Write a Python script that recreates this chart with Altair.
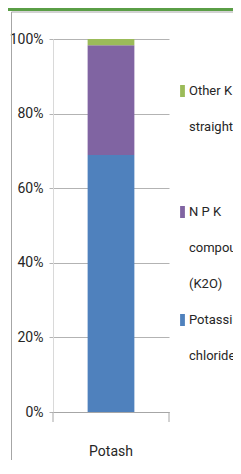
import altair as alt
import pandas as pd

categories = ["Potash"]
series = ["Potassium chloride", "N P K compound (K2O)", "Other K straight"]
values = [0.689, 0.294, 0.017]
colors = ["#4F81BD", "#8064A2", "#9BBB59"]
y_ticks = [0, 0.2, 0.4, 0.6, 0.8, 1.0]
legend_order = ["Other K straight", "N P K compound (K2O)", "Potassium chloride"]
legend_text = ["Other K\nstraight", "N P K\ncompound\n(K2O)", "Potassium\nchloride"]

FONT = "Roboto, sans-serif"
FS = 14
LFS = 13
TXT = "#262626"
GRID = "#B3B3B3"

df = pd.DataFrame({
    "category": [categories[0]] * len(series),
    "series": series,
    "value": values,
    "order": list(range(len(series))),
})

color_scale = alt.Scale(domain=series, range=colors)

bars = alt.Chart(df).mark_bar().encode(
    x=alt.X("category:N",
            scale=alt.Scale(paddingInner=0.595, paddingOuter=0.3),
            axis=alt.Axis(title=None, ticks=False, domainColor="#A6A6A6",
                          labelAngle=0, labelFont=FONT, labelFontSize=FS,
                          labelColor=TXT, labelPadding=32)),
    y=alt.Y("value:Q", stack="zero", scale=alt.Scale(domain=[0, 1]),
            axis=alt.Axis(title=None, values=y_ticks, format="%",
                          domainColor="#D9D9D9", grid=True, gridColor=GRID,
                          tickColor=GRID, tickSize=4, labelPadding=6,
                          labelFont=FONT, labelFontSize=FS, labelColor=TXT)),
    color=alt.Color("series:N", scale=color_scale, legend=None),
    order=alt.Order("order:Q"),
)

dummy = pd.DataFrame({"k": [0]})

# category boundary ticks on the x axis
tick_left = alt.Chart(dummy).mark_rule(color="#A6A6A6").encode(
    x=alt.value(0), y=alt.value(373), y2=alt.value(383))
tick_right = alt.Chart(dummy).mark_rule(color="#A6A6A6").encode(
    x=alt.value(116), y=alt.value(373), y2=alt.value(383))

# outer frame and green top band
frame_left = alt.Chart(dummy).mark_rule(color="#A6A6A6").encode(
    x=alt.value(-41.5), y=alt.value(-27), y2=alt.value(430))
frame_top = alt.Chart(dummy).mark_rule(color="#A6A6A6").encode(
    x=alt.value(-41.5), x2=alt.value(200), y=alt.value(-27))
green_band = alt.Chart(dummy).mark_rule(color="#5A9E46", strokeWidth=3).encode(
    x=alt.value(-45), x2=alt.value(200), y=alt.value(-29.5))

layers = [green_band, frame_left, frame_top, bars, tick_left, tick_right]

legend_y = [52, 173, 281]
for name, txt, yc in zip(legend_order, legend_text, legend_y):
    ldf = pd.DataFrame({"series": [name], "label": [txt]})
    sym = alt.Chart(ldf).mark_point(
        shape="M-0.4,-1L0.4,-1L0.4,1L-0.4,1Z", filled=True, size=144, opacity=1
    ).encode(
        x=alt.value(129.5), y=alt.value(yc),
        color=alt.Color("series:N", scale=color_scale, legend=None))
    lab = alt.Chart(ldf).mark_text(
        align="left", baseline="top", lineBreak="\n", lineHeight=36,
        font=FONT, fontSize=LFS, color=TXT
    ).encode(
        x=alt.value(136), y=alt.value(yc - 6), text="label:N")
    layers += [sym, lab]

chart = alt.layer(*layers).properties(
    width=116, height=373,
    autosize=alt.AutoSizeParams(type="none"),
    padding={"left": 45, "top": 31, "right": 64, "bottom": 48},
).configure_view(stroke=None)

chart.save("out.html", embed_options={"renderer": "svg", "actions": False})
